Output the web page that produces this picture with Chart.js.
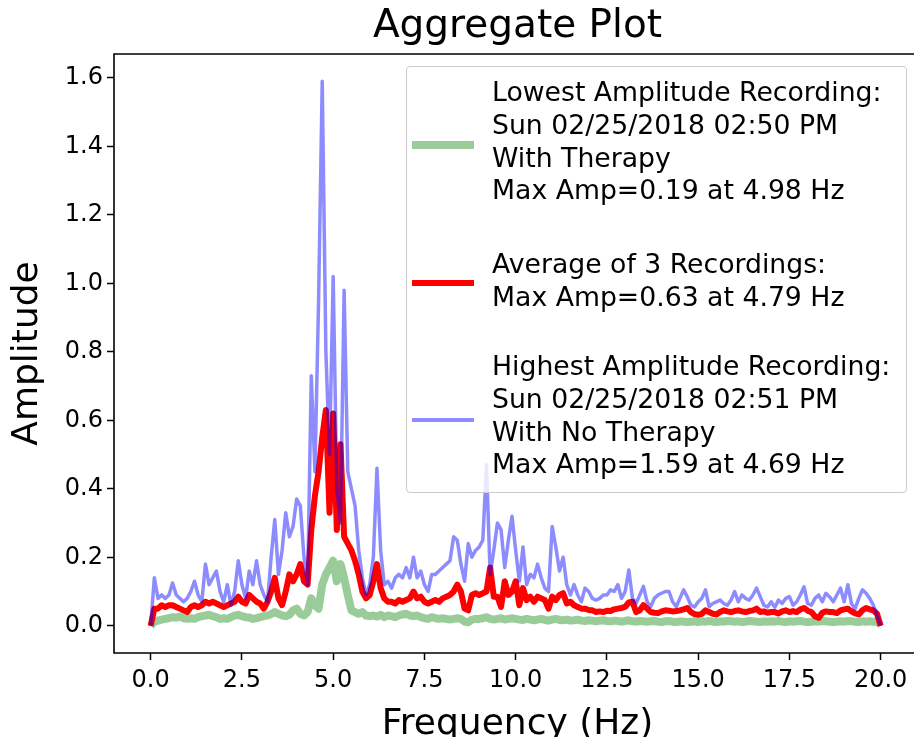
<!DOCTYPE html>
<html>
<head>
<meta charset="utf-8">
<title>Aggregate Plot</title>
<script src="https://cdn.jsdelivr.net/npm/chart.js@4.4.1/dist/chart.umd.min.js"></script>
<style>
  html, body { margin: 0; padding: 0; background: #fff; overflow: hidden; }
  #wrap { position: relative; width: 960px; height: 737px; }
  #legend {
    position: absolute; left: 406px; top: 66px; width: 499px; height: 425px;
    background: rgba(255,255,255,0.8); border: 1px solid #cccccc; border-radius: 4px;
    font-family: "DejaVu Sans", sans-serif; font-size: 26.7px; color: #000;
  }
  #legend .sample { position: absolute; left: 5px; width: 62px; }
  #legend .text { position: absolute; left: 85px; line-height: 32.8px; white-space: nowrap; }
</style>
</head>
<body>
<div id="wrap">
  <canvas id="chart" width="960" height="737"></canvas>
  <div id="legend"></div>
</div>
<script>
// frequency bins (Hz)
const freqs = [
  0.0, 0.1, 0.2, 0.3, 0.4, 0.5, 0.6, 0.7, 0.8, 0.9,
  1.0, 1.1, 1.2, 1.3, 1.4, 1.5, 1.6, 1.7, 1.8, 1.9,
  2.0, 2.1, 2.2, 2.3, 2.4, 2.5, 2.6, 2.7, 2.8, 2.9,
  3.0, 3.1, 3.2, 3.3, 3.4, 3.5, 3.6, 3.7, 3.8, 3.9,
  4.0, 4.1, 4.2, 4.3, 4.4, 4.5, 4.6, 4.7, 4.8, 4.9,
  5.0, 5.1, 5.2, 5.3, 5.4, 5.5, 5.6, 5.7, 5.8, 5.9,
  6.0, 6.1, 6.2, 6.3, 6.4, 6.5, 6.6, 6.7, 6.8, 6.9,
  7.0, 7.1, 7.2, 7.3, 7.4, 7.5, 7.6, 7.7, 7.8, 7.9,
  8.0, 8.1, 8.2, 8.3, 8.4, 8.5, 8.6, 8.7, 8.8, 8.9,
  9.0, 9.1, 9.2, 9.3, 9.4, 9.5, 9.6, 9.7, 9.8, 9.9,
  10.0, 10.1, 10.2, 10.3, 10.4, 10.5, 10.6, 10.7, 10.8, 10.9,
  11.0, 11.1, 11.2, 11.3, 11.4, 11.5, 11.6, 11.7, 11.8, 11.9,
  12.0, 12.1, 12.2, 12.3, 12.4, 12.5, 12.6, 12.7, 12.8, 12.9,
  13.0, 13.1, 13.2, 13.3, 13.4, 13.5, 13.6, 13.7, 13.8, 13.9,
  14.0, 14.1, 14.2, 14.3, 14.4, 14.5, 14.6, 14.7, 14.8, 14.9,
  15.0, 15.1, 15.2, 15.3, 15.4, 15.5, 15.6, 15.7, 15.8, 15.9,
  16.0, 16.1, 16.2, 16.3, 16.4, 16.5, 16.6, 16.7, 16.8, 16.9,
  17.0, 17.1, 17.2, 17.3, 17.4, 17.5, 17.6, 17.7, 17.8, 17.9,
  18.0, 18.1, 18.2, 18.3, 18.4, 18.5, 18.6, 18.7, 18.8, 18.9,
  19.0, 19.1, 19.2, 19.3, 19.4, 19.5, 19.6, 19.7, 19.8, 19.9,
  20.0
];

// lowest amplitude recording (with therapy)
const lowestAmp = [
  0.00, 0.012, 0.015, 0.018, 0.02, 0.022, 0.025, 0.024, 0.027, 0.022,
  0.02, 0.022, 0.02, 0.025, 0.028, 0.03, 0.032, 0.028, 0.025, 0.02,
  0.022, 0.02, 0.025, 0.03, 0.032, 0.028, 0.025, 0.024, 0.02, 0.022,
  0.025, 0.028, 0.03, 0.034, 0.04, 0.035, 0.03, 0.028, 0.032, 0.045,
  0.05, 0.035, 0.03, 0.04, 0.08, 0.06, 0.05, 0.12, 0.15, 0.17,
  0.19, 0.13, 0.18, 0.14, 0.09, 0.045, 0.04, 0.035, 0.04, 0.03,
  0.028, 0.03, 0.027, 0.032, 0.025, 0.03, 0.028, 0.025, 0.03, 0.033,
  0.035, 0.03, 0.028, 0.03, 0.025, 0.022, 0.02, 0.025, 0.022, 0.02,
  0.022, 0.02, 0.018, 0.02, 0.022, 0.02, 0.012, 0.01, 0.018, 0.02,
  0.02, 0.022, 0.025, 0.02, 0.018, 0.02, 0.022, 0.018, 0.02, 0.022,
  0.02, 0.018, 0.017, 0.02, 0.018, 0.016, 0.018, 0.02, 0.017, 0.015,
  0.018, 0.02, 0.017, 0.016, 0.018, 0.015, 0.016, 0.018, 0.015, 0.014,
  0.016, 0.015, 0.013, 0.015, 0.016, 0.014, 0.013, 0.015, 0.014, 0.012,
  0.014, 0.016, 0.013, 0.012, 0.014, 0.013, 0.012, 0.013, 0.014, 0.012,
  0.011, 0.013, 0.014, 0.012, 0.011, 0.013, 0.012, 0.011, 0.012, 0.013,
  0.011, 0.013, 0.012, 0.014, 0.012, 0.011, 0.013, 0.012, 0.014, 0.013,
  0.012, 0.013, 0.011, 0.012, 0.014, 0.013, 0.012, 0.011, 0.013, 0.012,
  0.013, 0.012, 0.014, 0.012, 0.011, 0.013, 0.012, 0.013, 0.014, 0.012,
  0.011, 0.012, 0.013, 0.012, 0.014, 0.013, 0.012, 0.011, 0.012, 0.013,
  0.012, 0.014, 0.013, 0.012, 0.011, 0.013, 0.012, 0.013, 0.012, 0.011,
  0.005
];

// average of the 3 recordings
const averageAmp = [
  0.00, 0.05, 0.05, 0.06, 0.055, 0.06, 0.06, 0.055, 0.05, 0.045,
  0.04, 0.055, 0.06, 0.055, 0.06, 0.07, 0.065, 0.07, 0.065, 0.06,
  0.055, 0.06, 0.065, 0.07, 0.085, 0.07, 0.065, 0.09, 0.08, 0.07,
  0.065, 0.05, 0.07, 0.10, 0.14, 0.08, 0.06, 0.10, 0.15, 0.13,
  0.15, 0.18, 0.13, 0.12, 0.28, 0.38, 0.45, 0.55, 0.63, 0.33,
  0.62, 0.28, 0.53, 0.26, 0.24, 0.22, 0.19, 0.15, 0.10, 0.08,
  0.09, 0.13, 0.18, 0.11, 0.08, 0.07, 0.07, 0.065, 0.075, 0.07,
  0.075, 0.08, 0.10, 0.08, 0.085, 0.07, 0.065, 0.07, 0.075, 0.07,
  0.08, 0.085, 0.09, 0.10, 0.12, 0.10, 0.05, 0.045, 0.09, 0.095,
  0.09, 0.095, 0.10, 0.17, 0.085, 0.085, 0.055, 0.13, 0.09, 0.10,
  0.13, 0.06, 0.11, 0.075, 0.085, 0.07, 0.085, 0.08, 0.075, 0.05,
  0.085, 0.075, 0.09, 0.095, 0.065, 0.07, 0.06, 0.055, 0.05, 0.05,
  0.046, 0.045, 0.04, 0.042, 0.04, 0.044, 0.043, 0.048, 0.05, 0.052,
  0.055, 0.068, 0.07, 0.04, 0.045, 0.06, 0.05, 0.04, 0.038, 0.037,
  0.042, 0.045, 0.044, 0.042, 0.043, 0.045, 0.048, 0.052, 0.04, 0.034,
  0.032, 0.035, 0.045, 0.04, 0.035, 0.033, 0.04, 0.045, 0.042, 0.04,
  0.043, 0.045, 0.042, 0.04, 0.043, 0.045, 0.05, 0.04, 0.042, 0.038,
  0.04, 0.04, 0.036, 0.042, 0.045, 0.04, 0.043, 0.04, 0.048, 0.052,
  0.044, 0.04, 0.028, 0.023, 0.038, 0.042, 0.04, 0.04, 0.037, 0.045,
  0.048, 0.05, 0.042, 0.036, 0.033, 0.045, 0.052, 0.048, 0.045, 0.035,
  0.00
];

// highest amplitude recording (no therapy)
const highestAmp = [
  0.00, 0.14, 0.08, 0.09, 0.08, 0.09, 0.125, 0.09, 0.08, 0.07,
  0.08, 0.10, 0.13, 0.09, 0.07, 0.18, 0.12, 0.14, 0.16, 0.10,
  0.07, 0.12, 0.06, 0.10, 0.19, 0.12, 0.08, 0.16, 0.12, 0.19,
  0.12, 0.09, 0.07, 0.20, 0.31, 0.15, 0.22, 0.33, 0.26, 0.29,
  0.37, 0.35, 0.20, 0.12, 0.73, 0.45, 0.95, 1.59, 0.80, 0.50,
  1.02, 0.40, 0.30, 0.98, 0.45, 0.40, 0.35, 0.22, 0.14, 0.09,
  0.12, 0.20, 0.46, 0.22, 0.12, 0.13, 0.11, 0.14, 0.15, 0.14,
  0.17, 0.14, 0.20, 0.14, 0.16, 0.12, 0.10, 0.15, 0.15, 0.16,
  0.17, 0.18, 0.19, 0.26, 0.25, 0.18, 0.13, 0.24, 0.20, 0.22,
  0.23, 0.25, 0.47, 0.15, 0.22, 0.30, 0.28, 0.17, 0.25, 0.32,
  0.22, 0.13, 0.23, 0.12, 0.15, 0.14, 0.18, 0.14, 0.11, 0.10,
  0.29, 0.23, 0.16, 0.20, 0.12, 0.09, 0.12, 0.09, 0.07, 0.11,
  0.10, 0.08, 0.075, 0.08, 0.09, 0.09, 0.105, 0.10, 0.12, 0.08,
  0.10, 0.163, 0.08, 0.066, 0.09, 0.115, 0.07, 0.056, 0.08, 0.09,
  0.095, 0.10, 0.10, 0.07, 0.056, 0.08, 0.105, 0.085, 0.06, 0.055,
  0.07, 0.08, 0.105, 0.056, 0.065, 0.07, 0.075, 0.065, 0.06, 0.075,
  0.10, 0.07, 0.09, 0.08, 0.075, 0.09, 0.11, 0.085, 0.06, 0.055,
  0.07, 0.054, 0.075, 0.065, 0.08, 0.085, 0.06, 0.07, 0.09, 0.114,
  0.065, 0.06, 0.08, 0.09, 0.07, 0.095, 0.085, 0.07, 0.09, 0.11,
  0.07, 0.12, 0.065, 0.05, 0.08, 0.105, 0.095, 0.08, 0.06, 0.03,
  0.00
];

const xTickValues = [0, 2.5, 5, 7.5, 10, 12.5, 15, 17.5, 20];
const yTickValues = [0, 0.2, 0.4, 0.6, 0.8, 1.0, 1.2, 1.4, 1.6];

const lowestLabel = ["Lowest Amplitude Recording:", "Sun 02/25/2018 02:50 PM", "With Therapy", "Max Amp=0.19 at 4.98 Hz"];
const averageLabel = ["Average of 3 Recordings:", "Max Amp=0.63 at 4.79 Hz"];
const highestLabel = ["Highest Amplitude Recording:", "Sun 02/25/2018 02:51 PM", "With No Therapy", "Max Amp=1.59 at 4.69 Hz"];

const FONT = "'DejaVu Sans', sans-serif";
const GREEN = 'rgba(0,128,0,0.4)';
const RED = '#ff0000';
const BLUE = 'rgba(0,0,255,0.45)';

function toPoints(ys) {
  return freqs.map((f, i) => ({ x: f, y: ys[i] }));
}

// legend drawn as html so it can hold multi line labels
function buildLegend() {
  const entries = [
    { lines: lowestLabel, color: GREEN, width: 8, lineY: 78, textTop: 9 },
    { lines: averageLabel, color: RED, width: 6, lineY: 216, textTop: 181 },
    { lines: highestLabel, color: BLUE, width: 3.5, lineY: 353, textTop: 283 }
  ];
  const box = document.getElementById('legend');
  entries.forEach(e => {
    const s = document.createElement('div');
    s.className = 'sample';
    s.style.top = (e.lineY - e.width / 2) + 'px';
    s.style.height = e.width + 'px';
    s.style.background = e.color;
    box.appendChild(s);
    const t = document.createElement('div');
    t.className = 'text';
    t.style.top = e.textTop + 'px';
    t.innerHTML = e.lines.join('<br>');
    box.appendChild(t);
  });
}

// matplotlib style spines, drawn over the lines
const spines = {
  id: 'spines',
  afterDatasetsDraw(chart) {
    const { ctx, chartArea: a } = chart;
    ctx.save();
    ctx.strokeStyle = '#000';
    ctx.lineWidth = 1.6;
    ctx.beginPath();
    ctx.moveTo(a.right, a.top);
    ctx.lineTo(a.left, a.top);
    ctx.lineTo(a.left, a.bottom);
    ctx.lineTo(a.right, a.bottom);
    ctx.stroke();
    ctx.restore();
  }
};

function initializeChart() {
  const ctx = document.getElementById('chart').getContext('2d');
  new Chart(ctx, {
    type: 'line',
    data: {
      datasets: [
        {
          label: 'Lowest Amplitude Recording',
          data: toPoints(lowestAmp),
          borderColor: GREEN,
          borderWidth: 8,
          order: 3
        },
        {
          label: 'Average of 3 Recordings',
          data: toPoints(averageAmp),
          borderColor: RED,
          borderWidth: 6,
          order: 2
        },
        {
          label: 'Highest Amplitude Recording',
          data: toPoints(highestAmp),
          borderColor: BLUE,
          borderWidth: 3.5,
          order: 1
        }
      ]
    },
    options: {
      responsive: false,
      animation: false,
      devicePixelRatio: 1,
      elements: {
        point: { radius: 0 },
        line: { tension: 0, fill: false, borderJoinStyle: 'round', borderCapStyle: 'butt' }
      },
      // right edge of the axes sits just outside the visible window
      layout: { padding: { left: 0, right: 39, top: 0, bottom: 0 } },
      plugins: {
        legend: { display: false },
        tooltip: { enabled: false },
        title: {
          display: true,
          text: 'Aggregate Plot',
          fullSize: false,
          color: '#000',
          font: { family: FONT, size: 39, weight: 'normal', lineHeight: 1.2 },
          padding: { top: 3, bottom: 4.2 }
        }
      },
      scales: {
        x: {
          type: 'linear',
          min: -1.005,
          max: 21.105,
          afterBuildTicks: s => { s.ticks = xTickValues.map(v => ({ value: v })); },
          afterFit: s => { s.height = 84; },
          ticks: {
            callback: v => v.toFixed(1),
            color: '#000',
            font: { family: FONT, size: 24 },
            padding: 6,
            maxRotation: 0,
            autoSkip: false
          },
          grid: { drawOnChartArea: false, drawTicks: true, tickLength: 7, tickWidth: 1.5, tickColor: '#000' },
          border: { display: false },
          title: {
            display: true,
            text: 'Frequency (Hz)',
            color: '#000',
            font: { family: FONT, size: 36, lineHeight: 0.7 },
            padding: 0
          }
        },
        y: {
          type: 'linear',
          min: -0.0795,
          max: 1.6695,
          afterBuildTicks: s => { s.ticks = yTickValues.map(v => ({ value: v })); },
          afterFit: s => { s.width = 114; },
          ticks: {
            callback: v => v.toFixed(1),
            color: '#000',
            font: { family: FONT, size: 24 },
            padding: 4,
            autoSkip: false
          },
          grid: { drawOnChartArea: false, drawTicks: true, tickLength: 7, tickWidth: 1.5, tickColor: '#000' },
          border: { display: false },
          title: {
            display: true,
            text: 'Amplitude',
            color: '#000',
            font: { family: FONT, size: 36, lineHeight: 1.2 },
            padding: { top: 6, bottom: 0 }
          }
        }
      }
    },
    plugins: [spines]
  });
}

document.addEventListener('DOMContentLoaded', () => {
  buildLegend();
  initializeChart();
});
</script>
</body>
</html>
